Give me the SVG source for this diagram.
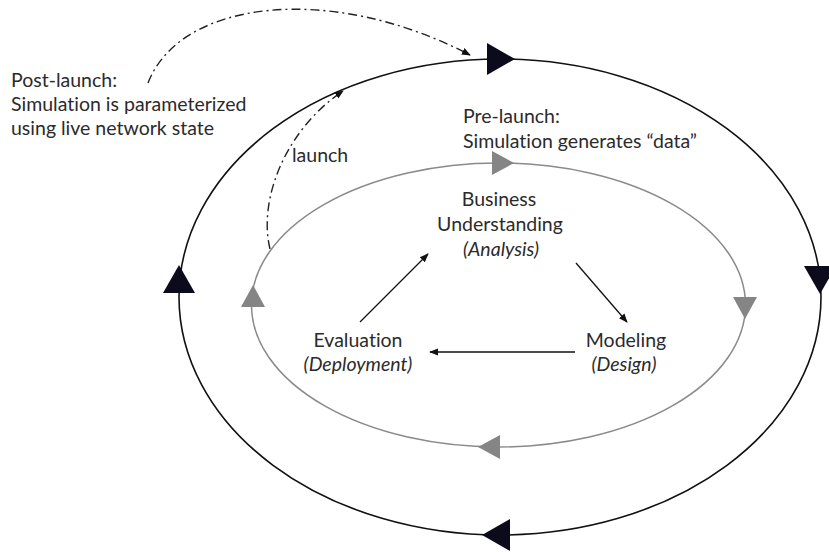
<svg xmlns="http://www.w3.org/2000/svg" width="829" height="552" viewBox="0 0 829 552">
<defs>
<style>
.t{font-family:Lato,"Open Sans","Liberation Sans",sans-serif;font-size:19.5px;fill:#2b2b2b;font-variant-ligatures:none}
.i{font-style:italic}
.c{text-anchor:middle}
.outer{fill:none;stroke:#111;stroke-width:1.6}
.inner{fill:none;stroke:#8a8a8a;stroke-width:1.5}
.dd{fill:none;stroke:#222;stroke-width:1.4;stroke-dasharray:9,4,2,4}
.ar{fill:none;stroke:#111;stroke-width:1.3}
</style>
<polygon id="tb" points="-13,-16 15,0 -13,16" fill="#0b0b1c"/>
<polygon id="tg" points="-10,-12 12,0 -10,12" fill="#858585"/>
<marker id="ah" viewBox="0 0 10 10" refX="9" refY="5" markerWidth="9" markerHeight="9" markerUnits="userSpaceOnUse" orient="auto">
<path d="M0,1 L10,5 L0,9 z" fill="#111"/>
</marker>
</defs>
<rect width="829" height="552" fill="#fff"/>
<g id="outer-cycle">
<ellipse class="outer" cx="500" cy="297" rx="321" ry="238"/>
<use href="#tb" transform="translate(500,59)"/>
<use href="#tb" transform="translate(820,279) rotate(90)"/>
<use href="#tb" transform="translate(497,535) rotate(180)"/>
<use href="#tb" transform="translate(179,280) rotate(-90)"/>
</g>
<g id="inner-cycle">
<ellipse class="inner" cx="498.5" cy="305" rx="247" ry="142"/>
<use href="#tg" transform="translate(502,163)"/>
<use href="#tg" transform="translate(745,307) rotate(90)"/>
<use href="#tg" transform="translate(490,447) rotate(180)"/>
<use href="#tg" transform="translate(253,297) rotate(-90)"/>
</g>
<g id="connectors">
<path class="dd" d="M148,83 C180,0 330,-18 470,55" marker-end="url(#ah)"/>
<path class="dd" d="M270,249 C258,200 285,130 343,91" marker-end="url(#ah)"/>
<path class="ar" d="M360,322 L428,254" marker-end="url(#ah)"/>
<path class="ar" d="M576,263 L627,322" marker-end="url(#ah)"/>
<path class="ar" d="M575,352 L430,352" marker-end="url(#ah)"/>
</g>
<g id="post-launch">
<text class="t" x="11" y="87">Post-launch:</text>
<text class="t" x="11" y="111">Simulation is parameterized</text>
<text class="t" x="11" y="135">using live network state</text>
</g>
<g id="launch-label">
<text class="t" x="292" y="162">launch</text>
</g>
<g id="pre-launch">
<text class="t" x="463" y="123">Pre-launch:</text>
<text class="t" x="463" y="148">Simulation generates “data”</text>
</g>
<g id="business">
<text class="t c" x="499" y="206">Business</text>
<text class="t c" x="500" y="231">Understanding</text>
<text class="t c i" x="501" y="256">(Analysis)</text>
</g>
<g id="modeling">
<text class="t c" x="626" y="347">Modeling</text>
<text class="t c i" x="624" y="371">(Design)</text>
</g>
<g id="evaluation">
<text class="t c" x="358" y="347">Evaluation</text>
<text class="t c i" x="358" y="371">(Deployment)</text>
</g>
</svg>
